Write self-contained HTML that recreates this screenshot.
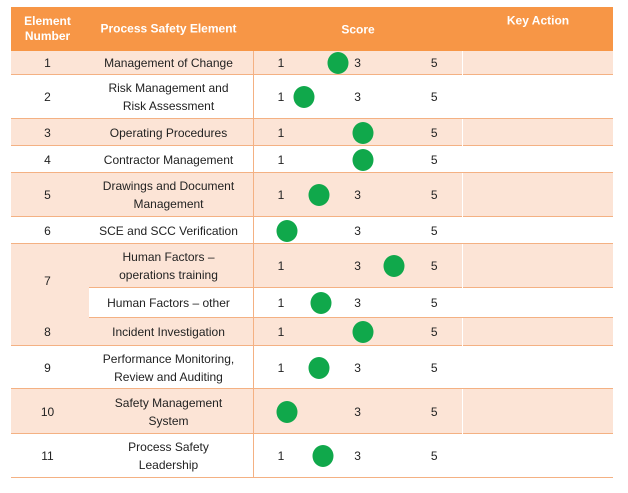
<!DOCTYPE html>
<html><head><meta charset="utf-8">
<style>
body{margin:0;width:628px;height:493px;background:#fff;position:relative;overflow:hidden;font-family:"Liberation Sans",sans-serif;}
.a{position:absolute;box-sizing:border-box;}
.t{position:absolute;font-size:12px;color:#222;text-align:center;line-height:18px;transform:translate(-50%,-50%);white-space:nowrap;}
.h{position:absolute;font-size:12px;color:#fff;font-weight:bold;text-align:center;line-height:15px;transform:translate(-50%,-50%);white-space:nowrap;}
.dot{position:absolute;width:21px;height:22px;border-radius:50%;background:#10a84b;transform:translate(-50%,-50%);}
</style></head>
<body>
<div id="tbl"></div>
<script>
const elementNumbers=["1","2","3","4","5","6","7","","8","9","10","11"];
const elementNames=["Management of Change","Risk Management and<br>Risk Assessment","Operating Procedures","Contractor Management","Drawings and Document<br>Management","SCE and SCC Verification","Human Factors –<br>operations training","Human Factors – other","Incident Investigation","Performance Monitoring,<br>Review and Auditing","Safety Management<br>System","Process Safety<br>Leadership"];
const scores=[2.5,1.6,3.15,3.15,2.0,1.15,3.95,2.05,3.15,2.0,1.15,2.1];
const scaleTicks=[1,3,5];
const rowTops=[51,75,119,146,173,217,244,288,318,346,389,434,478];
const rowShaded=[1,0,1,0,1,0,1,0,1,0,1,0];

const root=document.getElementById('tbl');
const X0=11,X1=84,X2=253,X3=462,X4=613;
function xScale(s){return 281+(s-1)*38.3;}
function add(cls,style,html){const d=document.createElement('div');d.className=cls;d.style.cssText=style;if(html!==undefined)d.innerHTML=html;root.appendChild(d);return d;}

// header
let e=add('a',`left:${X0}px;top:7px;width:${X4-X0}px;height:44px;background:#f79646;`);


e=add('h',`left:${(X0+X1)/2}px;top:29px;`,'Element<br>Number');


e=add('h',`left:${(X1+X2)/2}px;top:29px;`,'Process Safety Element');


e=add('h',`left:358px;top:30px;`,'Score');


e=add('h',`left:538px;top:21px;`,'Key Action');



for(let i=0;i<elementNames.length;i++){
  const top=rowTops[i],bot=rowTops[i+1],mid=(top+bot)/2;
  const bg=rowShaded[i]?'#fce4d6':'#ffffff';
  const r=add('a',`left:${X0}px;top:${top}px;width:${X4-X0}px;height:${bot-top}px;background:${bg};border-bottom:1px solid #f4b183;`);
  
  
  if(rowShaded[i]){const v=add('a',`left:${X3}px;top:${top}px;width:1px;height:${bot-top}px;background:#fff;`);
    
    }
  if(i===6||i===7){const c=add('a',`left:${X0}px;top:${top}px;width:${X1-X0+5}px;height:${bot-top+1}px;background:#fce4d6;`);
    
    }
  if(elementNumbers[i]){
    const nm=i===6?(rowTops[6]+rowTops[8])/2:mid;
    const n=add('t',`left:${(X0+X1)/2}px;top:${nm}px;`,elementNumbers[i]);
    
    
  }
  const nmEl=add('t',`left:${(X1+X2)/2}px;top:${mid}px;`,elementNames[i]);
  
  
  const dx=xScale(scores[i]);
  scaleTicks.forEach(s=>{
    const tx=xScale(s);
    if(Math.abs(tx-dx)<13) return;
    const tl=add('t',`left:${tx}px;top:${mid}px;`,String(s));
    
    
  });
  const d=add('dot',`left:${dx}px;top:${mid}px;`);
  
  
}
// vertical divider
e=add('a',`left:${X2}px;top:51px;width:1px;height:${478-51}px;background:#f4b183;`);


</script>
</body></html>
